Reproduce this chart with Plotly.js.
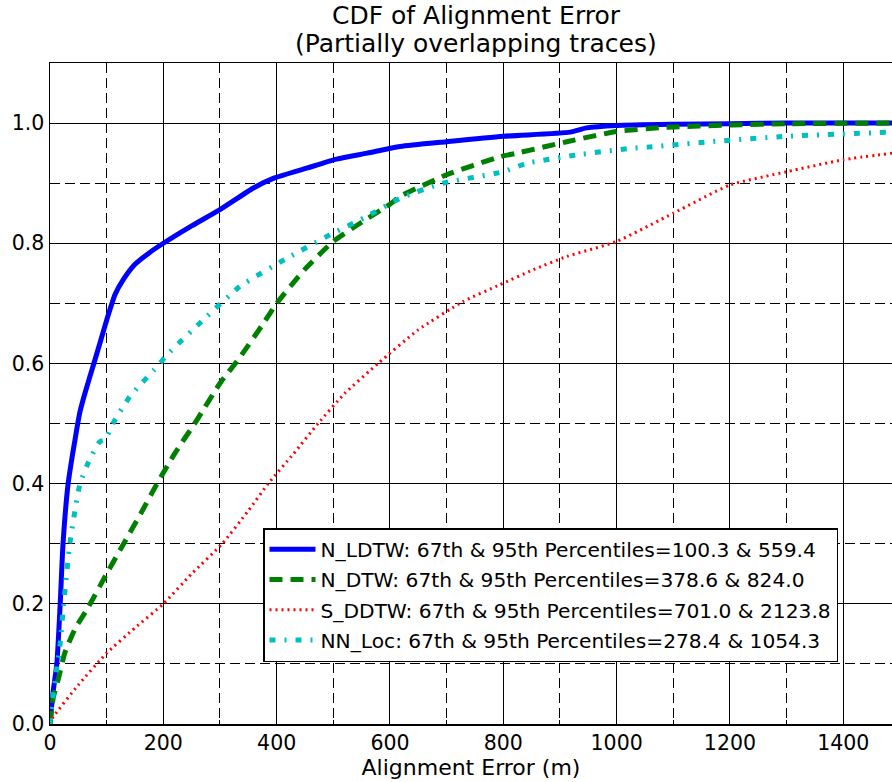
<!DOCTYPE html>
<html>
<head>
<meta charset="utf-8">
<script src="https://cdn.plot.ly/plotly-3.0.1.min.js"></script>
<style>html,body{margin:0;padding:0;background:#fff;}#chart{width:892px;height:782px;}</style>
</head>
<body>
<div id="chart"></div>
<script>
// ---- data ----
const seriesNames = [
  "N_LDTW: 67th & 95th Percentiles=100.3 & 559.4",
  "N_DTW: 67th & 95th Percentiles=378.6 & 824.0",
  "S_DDTW: 67th & 95th Percentiles=701.0 & 2123.8",
  "NN_Loc: 67th & 95th Percentiles=278.4 & 1054.3"
];

const ldtwX = [0, 5, 12, 18, 23, 32, 40, 44, 48, 53, 60, 79, 90, 100, 115, 129, 150, 175, 200, 250, 300, 359, 394, 453, 506, 560, 618, 700, 800, 918, 947, 1000, 1100, 1200, 1300, 1486];
const ldtwY = [0, 0.05, 0.1, 0.2, 0.3, 0.4, 0.45, 0.472, 0.495, 0.52, 0.545, 0.605, 0.64, 0.672, 0.715, 0.739, 0.765, 0.784, 0.8, 0.829, 0.856, 0.892, 0.908, 0.925, 0.94, 0.95, 0.961, 0.969, 0.978, 0.985, 0.992, 0.996, 0.998, 0.999, 1.0, 1.0];

const dtwX = [0, 6, 15, 26, 45, 65, 100, 130, 160, 189, 220, 258, 300, 335, 379, 400, 450, 500, 550, 600, 618, 700, 794, 824, 912, 1000, 1088, 1205, 1300, 1486];
const dtwY = [0, 0.045, 0.076, 0.118, 0.16, 0.19, 0.25, 0.3, 0.35, 0.4, 0.45, 0.504, 0.567, 0.61, 0.67, 0.7, 0.757, 0.803, 0.835, 0.865, 0.878, 0.914, 0.944, 0.95, 0.969, 0.986, 0.993, 0.997, 0.999, 1.0];

const ddtwX = [0, 6, 50, 100, 150, 200, 250, 304, 350, 385, 430, 473, 520, 579, 650, 729, 794, 853, 912, 1000, 1100, 1200, 1300, 1400, 1486];
const ddtwY = [0, 0.012, 0.065, 0.118, 0.16, 0.2, 0.25, 0.3, 0.355, 0.4, 0.45, 0.5, 0.55, 0.6, 0.656, 0.703, 0.731, 0.756, 0.778, 0.803, 0.85, 0.897, 0.919, 0.939, 0.95];

const nnX = [0, 3, 12, 18, 24, 35, 53, 70, 88, 97, 111, 141, 194, 206, 271, 335, 418, 500, 560, 618, 694, 800, 841, 929, 1024, 1054, 1165, 1300, 1486];
const nnY = [0, 0.03, 0.093, 0.134, 0.198, 0.3, 0.4, 0.44, 0.47, 0.473, 0.5, 0.545, 0.6, 0.614, 0.673, 0.728, 0.775, 0.817, 0.845, 0.875, 0.9, 0.919, 0.933, 0.947, 0.958, 0.96, 0.969, 0.978, 0.985];

const xTickVals = [0, 200, 400, 600, 800, 1000, 1200, 1400];
const yTickVals = [0.0, 0.2, 0.4, 0.6, 0.8, 1.0];

const titleLine1 = "CDF of Alignment Error";
const titleLine2 = "(Partially overlapping traces)";
const xTitle = "Alignment Error (m)";

// ---- chart ----
const FONT = "DejaVu Sans, Bitstream Vera Sans, sans-serif";

const traces = [
  {x: ldtwX, y: ldtwY, name: seriesNames[0], legendgroup: "a",
   line: {color: "#0000ff", width: 5, dash: "solid", shape: "spline", smoothing: 0.6}},
  {x: dtwX, y: dtwY, name: seriesNames[1], legendgroup: "b",
   line: {color: "#008000", width: 5, dash: "13px,8px", shape: "spline", smoothing: 0.5}},
  {x: ddtwX, y: ddtwY, name: seriesNames[2], legendgroup: "c",
   line: {color: "#ff0000", width: 3, dash: "2px,4px", shape: "spline", smoothing: 0.5}},
  {x: nnX, y: nnY, name: seriesNames[3], legendgroup: "d",
   line: {color: "#00bfbf", width: 5, dash: "6px,9px,2px,9px", shape: "spline", smoothing: 0.5}}
].map(t => Object.assign({type: "scatter", mode: "lines"}, t));

const axisCommon = {
  ticks: "inside", ticklen: 8, tickwidth: 1, tickcolor: "#000",
  showline: true, linecolor: "#000", linewidth: 1.5,
  showgrid: true, gridcolor: "#000", gridwidth: 1,
  zeroline: false,
  tickfont: {family: FONT, size: 20.5, color: "#000"}
};

const layout = {
  width: 892, height: 782,
  margin: {l: 50, r: 0, t: 63, b: 58, pad: 0},
  paper_bgcolor: "#fff", plot_bgcolor: "#fff",
  font: {family: FONT, color: "#000"},
  showlegend: true,
  title: {
    text: titleLine1,
    font: {family: FONT, size: 25, color: "#000"},
    xref: "container", x: 476 / 892, xanchor: "center",
    yref: "container", y: 1 - 15 / 782, yanchor: "middle"
  },
  annotations: [{
    text: titleLine2, showarrow: false,
    font: {family: FONT, size: 25, color: "#000"},
    xref: "paper", x: (476 - 50) / 842, xanchor: "center",
    yref: "paper", y: (724 - 44) / 661, yanchor: "middle"
  }],
  xaxis: Object.assign({}, axisCommon, {
    range: [0, 1486], tickvals: xTickVals, ticktext: xTickVals.map(String),
    mirror: "ticks",
    minor: {dtick: 100, tick0: 0, showgrid: true, gridcolor: "#000", gridwidth: 1,
            griddash: "10px,5px", ticks: "inside", ticklen: 4, tickcolor: "#000"},
    title: {text: xTitle, font: {family: FONT, size: 22, color: "#000"}, standoff: 4}
  }),
  yaxis: Object.assign({}, axisCommon, {
    range: [0, 1.1], tickvals: yTickVals, ticktext: yTickVals.map(v => v.toFixed(1)),
    mirror: false,
    minor: {dtick: 0.1, tick0: 0, showgrid: true, gridcolor: "#000", gridwidth: 1,
            griddash: "10px,5px", ticks: "inside", ticklen: 4, tickcolor: "#000"}
  }),
  legend: {
    x: (263 - 50) / 842, xanchor: "left",
    y: (724 - 528) / 661, yanchor: "top",
    bgcolor: "#fff", bordercolor: "#000", borderwidth: 1.5,
    font: {family: FONT, size: 20.2, color: "#000"},
    itemwidth: 46, traceorder: "grouped", tracegroupgap: 1
  }
};

Plotly.newPlot("chart", traces, layout, {staticPlot: true, displayModeBar: false});
</script>
</body>
</html>
